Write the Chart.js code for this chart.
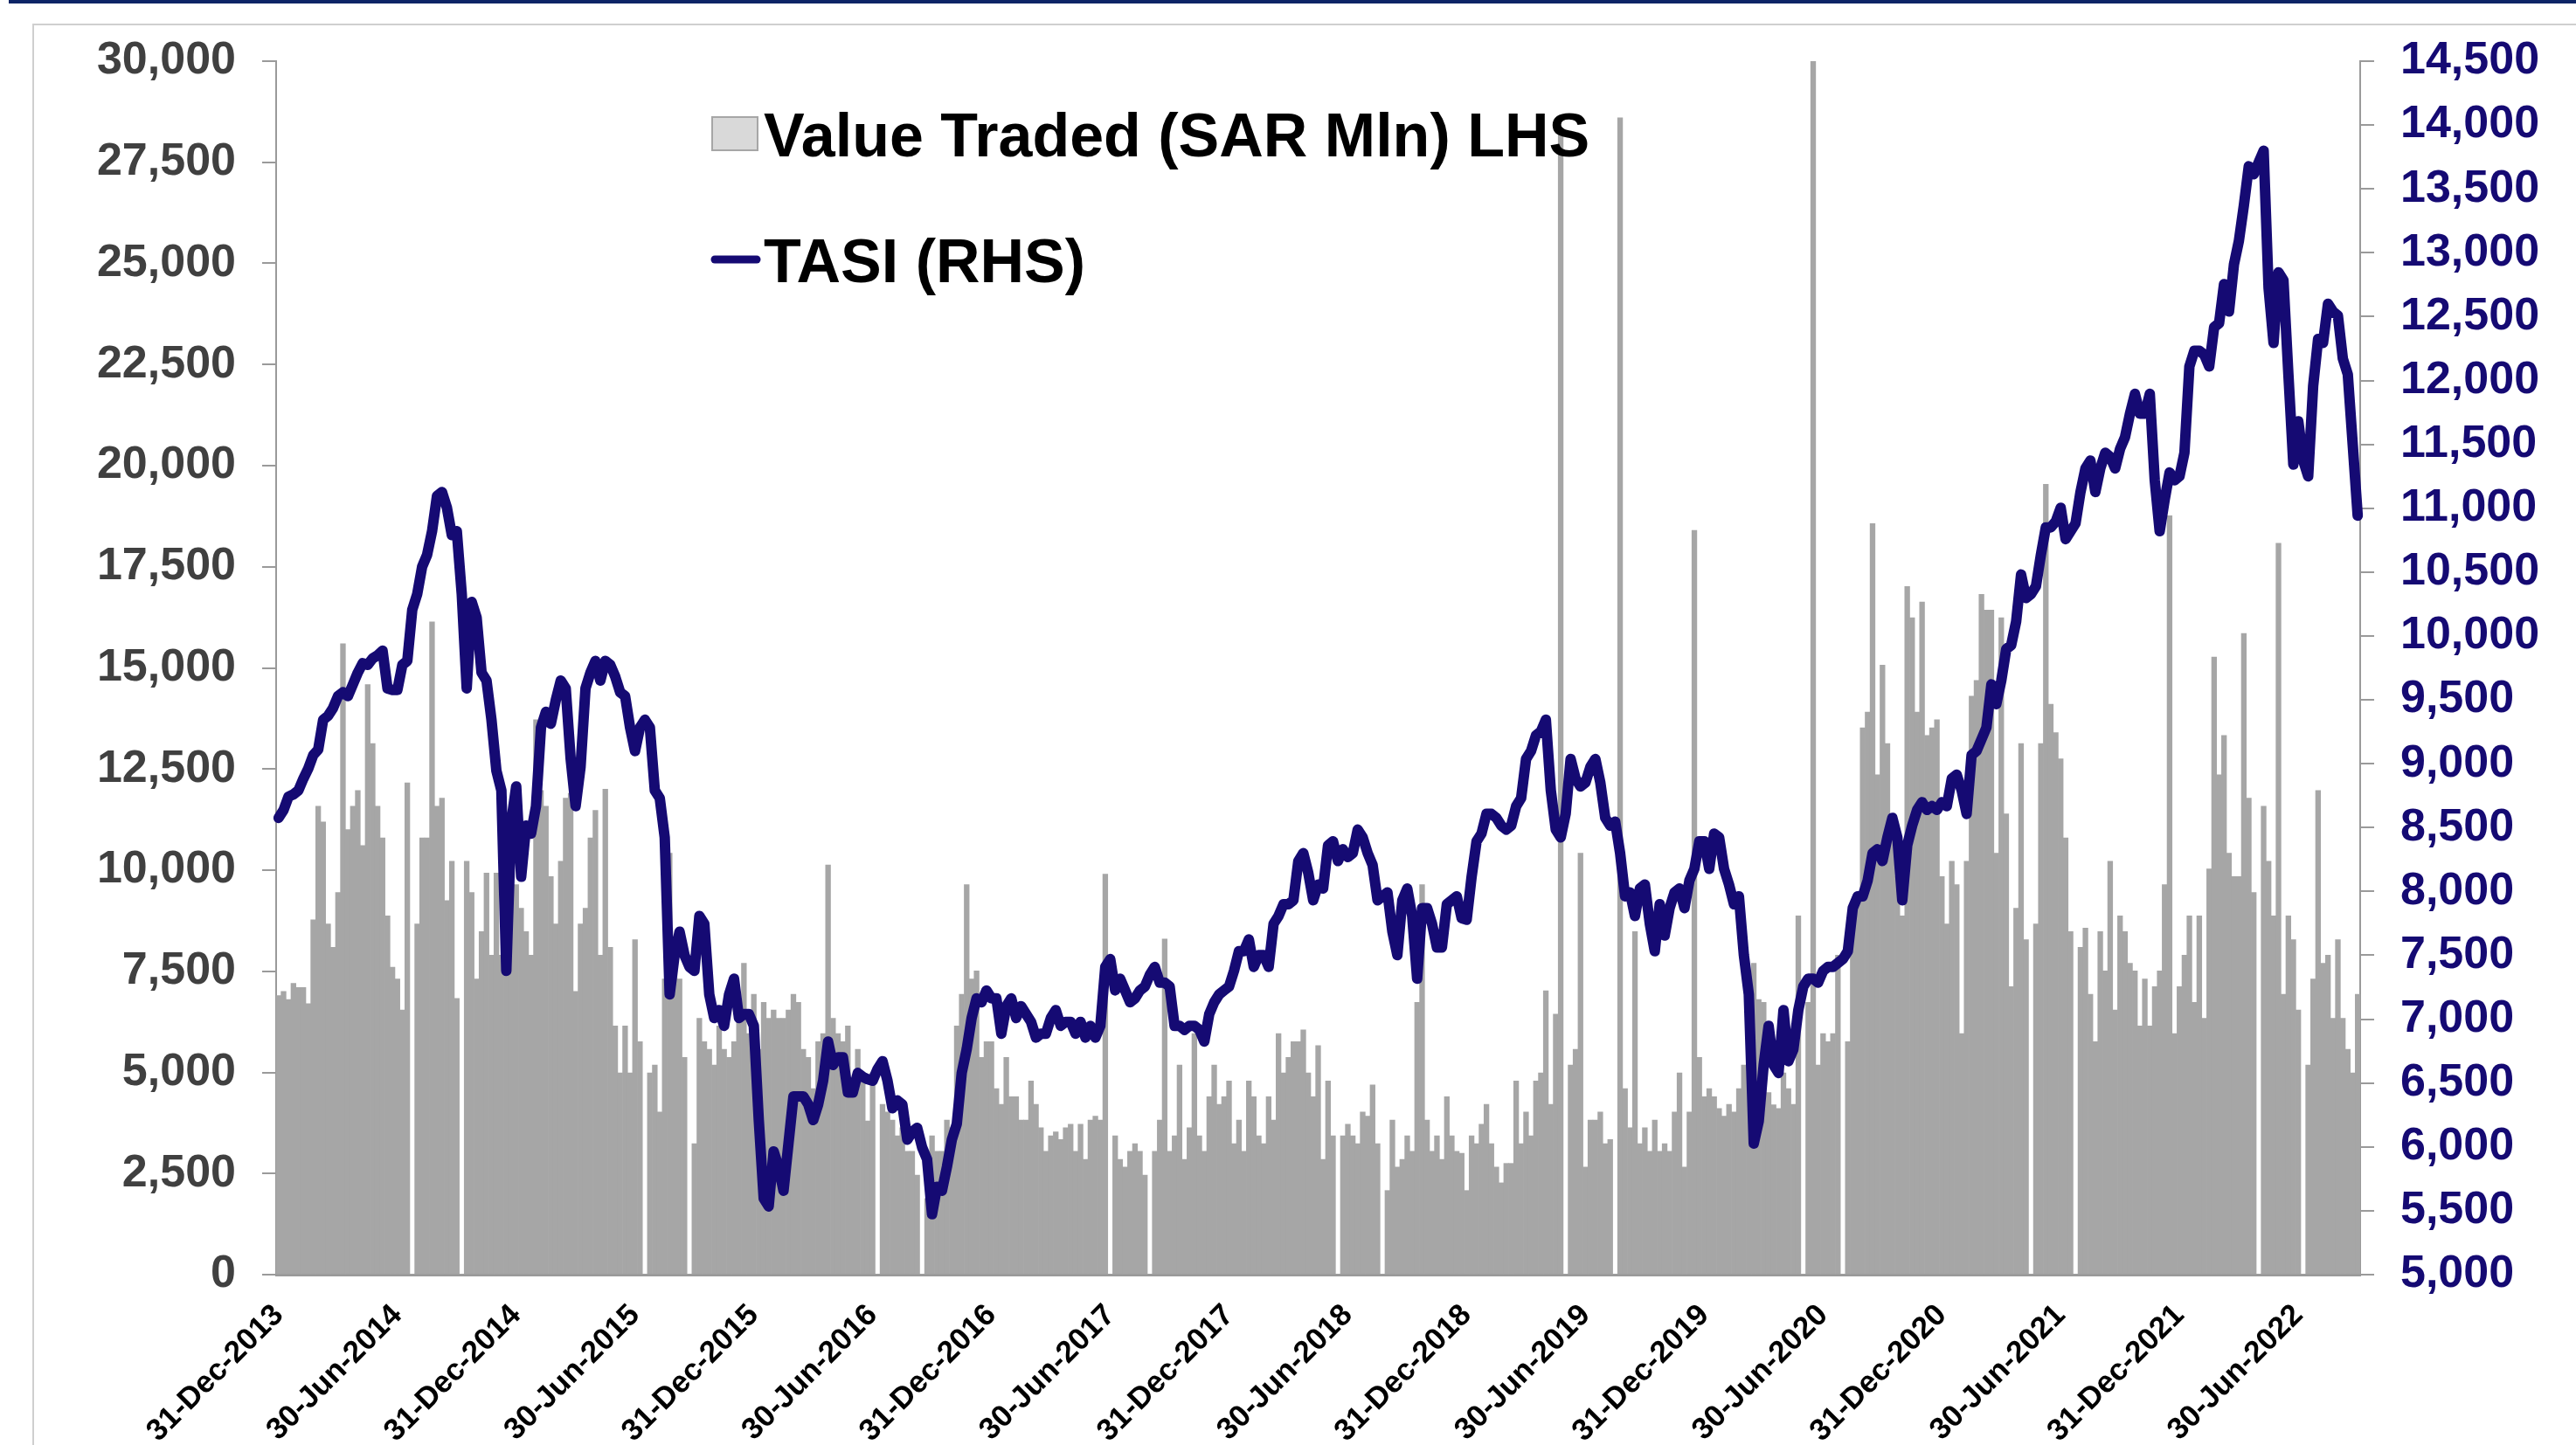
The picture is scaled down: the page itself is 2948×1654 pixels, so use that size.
<!DOCTYPE html>
<html>
<head>
<meta charset="utf-8">
<script src="https://cdn.jsdelivr.net/npm/chart.js@4.4.1/dist/chart.umd.min.js"></script>
<style>
  html, body { margin: 0; padding: 0; background: #fff; }
  #wrap { position: relative; width: 2948px; height: 1654px; overflow: hidden; }
  #topBand { position: absolute; left: 10px; top: 0; width: 2938px; height: 4px; background: #0d2466; }
  #frame { position: absolute; left: 37px; top: 27px; width: 2960px; height: 1700px;
           border-top: 2px solid #cfcfcf; border-left: 2px solid #cfcfcf; }
  #myChart { position: absolute; left: 0; top: 0; }
</style>
</head>
<body>
<div id="wrap">
  <div id="topBand"></div>
  <div id="frame"></div>
  <canvas id="myChart" width="2948" height="1654"></canvas>
</div>
<script>
// weekly readings (4 per month), first point is 31-Dec-2013
var tasiStart = 8576;
var valueStart = 6900;

var tasi2014 = [8637, 8742, 8760, 8791, 8883, 8963, 9068, 9111, 9344, 9375, 9436, 9529, 9559, 9529, 9620, 9713,
    9787, 9774, 9824, 9848, 9885, 9590, 9578, 9578, 9774, 9805, 10205, 10328, 10543, 10635, 10820, 11096,
    11127, 11004, 10789, 10820, 10328, 9590, 10267, 10144, 9713, 9651, 9344, 8944, 8791, 7378, 8546, 8822];
var tasi2015 = [8115, 8515, 8453, 8668, 9283, 9406, 9313, 9498, 9651, 9590, 9037, 8668, 8976, 9590, 9713, 9805,
    9651, 9805, 9774, 9682, 9559, 9529, 9283, 9099, 9283, 9344, 9283, 8791, 8730, 8423, 7194, 7501,
    7685, 7501, 7409, 7378, 7808, 7747, 7194, 7009, 7071, 6948, 7194, 7317, 7009, 7040, 7040, 6948];
var tasi2016 = [6210, 5596, 5534, 5965, 5842, 5657, 6026, 6395, 6395, 6395, 6333, 6210, 6333, 6518, 6825, 6641,
    6702, 6702, 6426, 6426, 6579, 6549, 6530, 6518, 6610, 6671, 6518, 6303, 6364, 6333, 6057, 6118,
    6149, 5996, 5903, 5473, 5688, 5657, 5842, 6057, 6180, 6579, 6764, 7009, 7163, 7132, 7225, 7163];
var tasi2017 = [7163, 6886, 7102, 7163, 7009, 7102, 7040, 6979, 6856, 6886, 6886, 7009, 7071, 6948, 6979, 6979,
    6886, 6979, 6856, 6948, 6856, 6948, 7409, 7470, 7225, 7317, 7225, 7132, 7163, 7225, 7255, 7348,
    7409, 7286, 7286, 7255, 6948, 6948, 6917, 6948, 6948, 6917, 6825, 7040, 7132, 7194, 7225, 7255];
var tasi2018 = [7378, 7532, 7532, 7624, 7409, 7501, 7501, 7409, 7747, 7808, 7900, 7900, 7931, 8238, 8300, 8146,
    7931, 8054, 8023, 8361, 8392, 8238, 8330, 8269, 8300, 8484, 8423, 8300, 8207, 7931, 7962, 7993,
    7685, 7501, 7931, 8023, 7808, 7317, 7870, 7870, 7747, 7562, 7562, 7900, 7931, 7962, 7790, 7778];
var tasi2019 = [8115, 8392, 8453, 8607, 8607, 8576, 8515, 8484, 8515, 8668, 8730, 9037, 9099, 9222, 9252, 9344,
    8791, 8484, 8423, 8607, 9037, 8883, 8822, 8852, 8976, 9037, 8852, 8576, 8515, 8546, 8300, 7962,
    7993, 7808, 8023, 8054, 7747, 7532, 7900, 7655, 7870, 7993, 8023, 7870, 8085, 8177, 8392, 8392];
var tasi2020 = [8177, 8453, 8423, 8177, 8054, 7900, 7962, 7501, 7194, 6026, 6200, 6641, 6948, 6641, 6579, 7071,
    6671, 6764, 7071, 7255, 7317, 7317, 7286, 7378, 7409, 7409, 7440, 7470, 7532, 7870, 7962, 7962,
    8085, 8300, 8330, 8238, 8423, 8576, 8423, 7931, 8361, 8515, 8638, 8699, 8638, 8668, 8638, 8699];
var tasi2021 = [8668, 8883, 8914, 8791, 8607, 9068, 9099, 9191, 9283, 9621, 9467, 9651, 9897, 9928, 10112, 10481,
    10297, 10328, 10389, 10635, 10850, 10850, 10896, 11004, 10758, 10820, 10881, 11127, 11311, 11373, 11127, 11311,
    11434, 11403, 11311, 11465, 11557, 11741, 11895, 11741, 11741, 11895, 11219, 10820, 11065, 11280, 11219, 11250];
var tasi2022 = [11434, 12110, 12233, 12233, 12202, 12110, 12417, 12448, 12755, 12540, 12908, 13093, 13369, 13677, 13615, 13707,
    13799, 12724, 12294, 12847, 12786, 12048, 11342, 11680, 11373, 11250, 11956, 12325, 12294, 12601, 12540, 12509,
    12171, 12048, 11496, 10942];

var value2014 = [7000, 6800, 7200, 7100, 7100, 6700, 8770, 11580, 11190, 8670, 8090, 9450, 15600, 11000, 11580, 11970,
    10610, 14590, 13130, 11580, 10800, 8870, 7600, 7310, 6540, 12160, 0, 8670, 10800, 10800, 16140, 11580,
    11780, 9250, 10220, 6830, 0, 10220, 9450, 7310, 8480, 9930, 7900, 9930, 7900, 10800, 11190, 9640];
var value2015 = [9060, 8480, 7900, 13720, 11970, 11580, 9840, 8670, 10220, 11780, 11900, 7000, 8670, 9060, 10800, 11480,
    7900, 12000, 8090, 6150, 4990, 6150, 4990, 8280, 5760, 0, 4990, 5180, 4020, 7310, 10420, 7510,
    7310, 5370, 0, 3240, 6340, 5760, 5570, 5180, 6150, 5570, 5370, 5760, 6340, 7700, 5960, 6930];
var value2016 = [5570, 6730, 6340, 6540, 6340, 6340, 6540, 6930, 6730, 5570, 5370, 4600, 5760, 5960, 10130, 6340,
    5960, 5760, 6150, 4790, 5570, 4990, 3800, 4990, 0, 4210, 4020, 3820, 3430, 3630, 3050, 3050,
    2460, 0, 1880, 3430, 3050, 3050, 3820, 3630, 6150, 6930, 9640, 7310, 7510, 5370, 5760, 5760];
var value2017 = [4600, 4210, 5370, 4400, 4400, 3820, 3820, 4790, 4210, 3630, 3050, 3430, 3530, 3340, 3630, 3720,
    3050, 3720, 2850, 3820, 3920, 3820, 9900, 0, 3430, 2850, 2660, 3050, 3240, 3050, 2460, 0,
    3050, 3820, 8300, 3050, 3430, 5180, 2850, 3630, 5960, 3430, 3050, 4400, 5180, 4210, 4400, 4790];
var value2018 = [3240, 3820, 3050, 4790, 4400, 3430, 3240, 4400, 3820, 5960, 4990, 5370, 5760, 5760, 6050, 4990,
    4400, 5660, 2850, 4790, 3430, 0, 3430, 3720, 3430, 3240, 4020, 3920, 4690, 3240, 0, 2080,
    3820, 2660, 2850, 3430, 3050, 6730, 9640, 3820, 3050, 3430, 2850, 4400, 3430, 3050, 3000, 2080];
var value2019 = [3430, 3240, 3720, 4210, 3240, 2660, 2270, 2750, 2750, 4790, 3240, 4020, 3430, 4790, 4990, 7020,
    4210, 6440, 28200, 0, 5180, 5570, 10420, 2660, 3820, 3820, 4020, 3240, 3340, 0, 28600, 4600,
    3630, 8480, 3240, 3630, 3050, 3820, 3050, 3240, 3050, 4020, 4990, 2660, 4020, 18400, 5370, 4400];
var value2020 = [4600, 4400, 4110, 3920, 4210, 4020, 4600, 5180, 5760, 7700, 6800, 6730, 4500, 4200, 4110, 4990,
    4600, 4210, 8870, 0, 6730, 30000, 5180, 5960, 5760, 5960, 7900, 0, 5760, 8480, 9250, 13520,
    13910, 18570, 12360, 15070, 13130, 10800, 9840, 8870, 17010, 16240, 13910, 16630, 13330, 13520, 13720, 9840];
var value2021 = [8670, 10220, 9640, 5960, 10220, 14300, 14690, 16820, 16430, 16430, 10420, 16240, 11390, 7120, 9060, 13130,
    8280, 0, 8670, 13130, 19540, 14100, 13400, 12750, 10800, 8480, 0, 8090, 8570, 6930, 5760, 8480,
    7510, 10220, 6540, 8870, 8480, 7700, 7510, 6150, 7310, 6150, 7120, 7510, 9640, 18760, 5960, 7120];
var value2022 = [7900, 8870, 6730, 8870, 6340, 10030, 15270, 12360, 13330, 10420, 9840, 9840, 15850, 11780, 9450, 0,
    11580, 10220, 8870, 18080, 6930, 8870, 8280, 6540, 0, 5180, 7310, 11970, 7700, 7900, 6340, 8280,
    6340, 5570, 4990, 6930];

var halfYearTicks = ['31-Dec-2013', '30-Jun-2014', '31-Dec-2014', '30-Jun-2015', '31-Dec-2015', '30-Jun-2016',
    '31-Dec-2016', '30-Jun-2017', '31-Dec-2017', '30-Jun-2018', '31-Dec-2018', '30-Jun-2019', '31-Dec-2019',
    '30-Jun-2020', '31-Dec-2020', '30-Jun-2021', '31-Dec-2021', '30-Jun-2022'];

var monthNames = ['Jan', 'Feb', 'Mar', 'Apr', 'May', 'Jun', 'Jul', 'Aug', 'Sep', 'Oct', 'Nov', 'Dec'];

// build the week labels for one year, the 4th week of a month is the month end
function weekLabels(year, count) {
    var out = [];
    for (var k = 0; k < count; ++k) {
        var m = Math.floor(k / 4), w = k % 4;
        var day = w < 3 ? (w + 1) * 7 : new Date(year, m + 1, 0).getDate();
        out.push(day + '-' + monthNames[m] + '-' + year);
    }
    return out;
}

var tasiYears = [tasi2014, tasi2015, tasi2016, tasi2017, tasi2018, tasi2019, tasi2020, tasi2021, tasi2022];
var valueYears = [value2014, value2015, value2016, value2017, value2018, value2019, value2020, value2021, value2022];

var labels = ['31-Dec-2013'];
var tasiData = [tasiStart];
var valueData = [valueStart];
for (var y = 0; y < tasiYears.length; ++y) {
    labels = labels.concat(weekLabels(2014 + y, tasiYears[y].length));
    tasiData = tasiData.concat(tasiYears[y]);
    valueData = valueData.concat(valueYears[y]);
}

var FONT = "'Liberation Sans', Arial, sans-serif";
var AXIS_GREY = '#9a9a9a';
var NAVY = '#150a73';

// legend drawn inside the plot, like the original
var legendBox = {
    id: 'legendBox',
    afterDatasetsDraw: function(chart) {
        var c = chart.ctx;
        c.save();
        c.fillStyle = '#d9d9d9';
        c.strokeStyle = '#a6a6a6';
        c.lineWidth = 2;
        c.fillRect(815, 134, 52, 38);
        c.strokeRect(815, 134, 52, 38);

        c.strokeStyle = NAVY;
        c.lineWidth = 9;
        c.lineCap = 'round';
        c.beginPath();
        c.moveTo(818, 297);
        c.lineTo(866, 297);
        c.stroke();

        c.fillStyle = '#000';
        c.font = 'bold 70px ' + FONT;
        c.textBaseline = 'alphabetic';
        c.fillText('Value Traded (SAR Mln) LHS', 874, 179);
        c.fillText('TASI (RHS)', 874, 323);
        c.restore();
    }
};

var ctx = document.getElementById('myChart');
var myChart = new Chart(ctx, {
    type: 'bar',
    data: {
        labels: labels,
        datasets: [
            {
                type: 'line',
                label: 'TASI (RHS)',
                data: tasiData,
                yAxisID: 'y1',
                borderColor: NAVY,
                borderWidth: 12,
                borderJoinStyle: 'round',
                borderCapStyle: 'round',
                pointRadius: 0,
                tension: 0,
                fill: false,
                order: 0
            },
            {
                type: 'bar',
                label: 'Value Traded (SAR Mln) LHS',
                data: valueData,
                yAxisID: 'y',
                backgroundColor: '#a6a6a6',
                borderWidth: 0,
                barPercentage: 1,
                categoryPercentage: 1,
                order: 1
            }
        ]
    },
    options: {
        responsive: false,
        animation: false,
        layout: { padding: { left: 0, right: 0, top: 70, bottom: 0 } },
        plugins: {
            legend: { display: false },
            tooltip: { enabled: false }
        },
        scales: {
            x: {
                type: 'category',
                offset: true,
                grid: {
                    offset: true,
                    drawOnChartArea: false,
                    tickLength: 12,
                    lineWidth: 2,
                    color: function(c) {
                        return halfYearTicks.indexOf(labels[c.index]) >= 0 ? AXIS_GREY : 'rgba(0,0,0,0)';
                    }
                },
                border: { display: true, color: AXIS_GREY, width: 3 },
                ticks: {
                    autoSkip: false,
                    minRotation: 45,
                    maxRotation: 45,
                    padding: 14,
                    color: '#000',
                    font: { family: FONT, size: 35, weight: 'bold' },
                    callback: function(value) {
                        var lab = labels[value];
                        return halfYearTicks.indexOf(lab) >= 0 ? lab : null;
                    }
                },
                afterFit: function(scale) { scale.height = 195; }
            },
            y: {
                type: 'linear',
                position: 'left',
                min: 0,
                max: 30000,
                grid: { drawOnChartArea: false, tickLength: 16, color: AXIS_GREY, lineWidth: 2 },
                border: { display: true, color: AXIS_GREY, width: 2 },
                ticks: {
                    stepSize: 2500,
                    padding: 30,
                    color: '#404040',
                    font: { family: FONT, size: 52, weight: 'bold' },
                    callback: function(v) { return v.toLocaleString('en-US'); }
                },
                afterFit: function(scale) { scale.width = 316; }
            },
            y1: {
                type: 'linear',
                position: 'right',
                min: 5000,
                max: 14500,
                grid: { drawOnChartArea: false, tickLength: 16, color: AXIS_GREY, lineWidth: 2 },
                border: { display: true, color: AXIS_GREY, width: 2 },
                ticks: {
                    stepSize: 500,
                    padding: 30,
                    color: NAVY,
                    font: { family: FONT, size: 52, weight: 'bold' },
                    callback: function(v) { return v.toLocaleString('en-US'); }
                },
                afterFit: function(scale) { scale.width = 247; }
            }
        }
    },
    plugins: [legendBox]
});
</script>
</body>
</html>
